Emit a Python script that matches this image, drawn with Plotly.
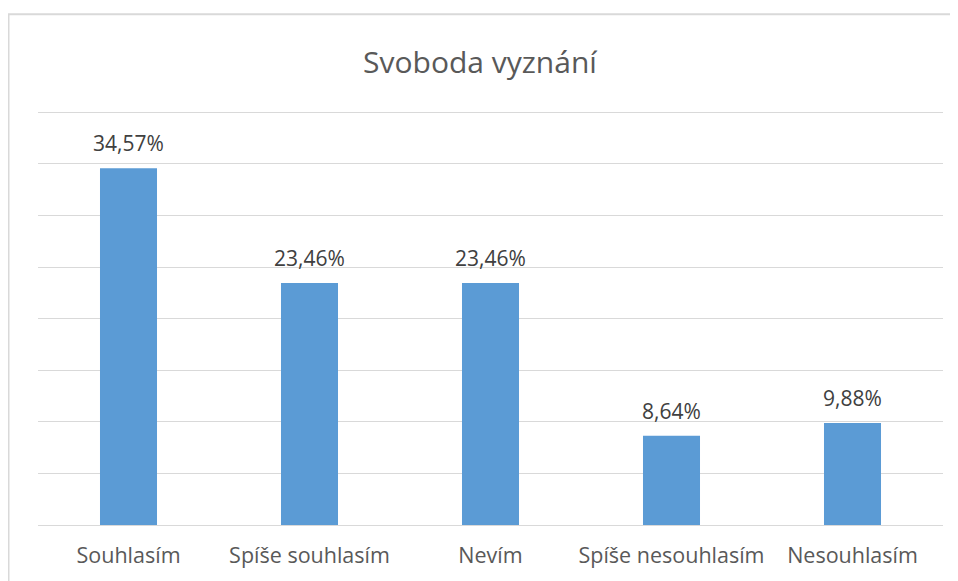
import plotly.graph_objects as go

categories = ["Souhlasím", "Spíše souhlasím", "Nevím", "Spíše nesouhlasím", "Nesouhlasím"]
values = [34.57, 23.46, 23.46, 8.64, 9.88]
title_text = "Svoboda vyznání"

# page body has an 8px margin -> figure drawn at (8,8)
OFF = 8
W, H = 958 - OFF, 581 - OFF
YMAX = 41.0
px_per_unit = (527 - 112) / 40.0
L, R = 38 - OFF, 958 - 943
B = H - (527 - OFF)
ph = px_per_unit * YMAX
T = H - B - ph
pw = W - L - R

FONT = "'Open Sans', 'Noto Sans', sans-serif"

fig = go.Figure()
fig.add_trace(go.Bar(
    x=categories, y=values,
    marker=dict(color="#5b9bd5", line=dict(width=0)),
    hoverinfo="skip",
))

for c, v in zip(categories, values):
    fig.add_annotation(
        x=c, y=v, xref="x", yref="y",
        text=f"{v:.2f}".replace(".", ",") + "%",
        showarrow=False, yanchor="bottom", yshift=9,
        font=dict(family=FONT, size=21, color="#404040"),
    )

# outer chart border
fig.add_shape(
    type="rect", xref="paper", yref="paper",
    x0=(8.5 - 38) / pw, x1=1.2, y0=-0.5, y1=(527 - 13.5) / ph,
    line=dict(color="#d9d9d9", width=2), fillcolor="rgba(0,0,0,0)", layer="below",
)

fig.update_layout(
    width=W, height=H,
    margin=dict(l=L, r=R, t=T, b=B),
    paper_bgcolor="white", plot_bgcolor="white",
    bargap=0.685,
    showlegend=False,
    title=dict(
        text=title_text, x=(480 - OFF) / W, xanchor="center", y=1 - (62 - OFF) / H, yanchor="middle",
        font=dict(family=FONT, size=30, color="#595959"),
    ),
    xaxis=dict(
        showgrid=False, showline=False, zeroline=False, ticks="",
        tickfont=dict(family=FONT, size=21.5, color="#595959"),
        ticklabelstandoff=15,
        fixedrange=True,
    ),
    yaxis=dict(
        range=[0, YMAX], tickvals=[0, 5, 10, 15, 20, 25, 30, 35, 40],
        showticklabels=False, showgrid=True,
        gridcolor="#d9d9d9", gridwidth=1.3, zeroline=True, zerolinecolor="#d9d9d9",
        zerolinewidth=1.3, showline=False, ticks="", fixedrange=True,
    ),
)

fig.write_html("out.html")
